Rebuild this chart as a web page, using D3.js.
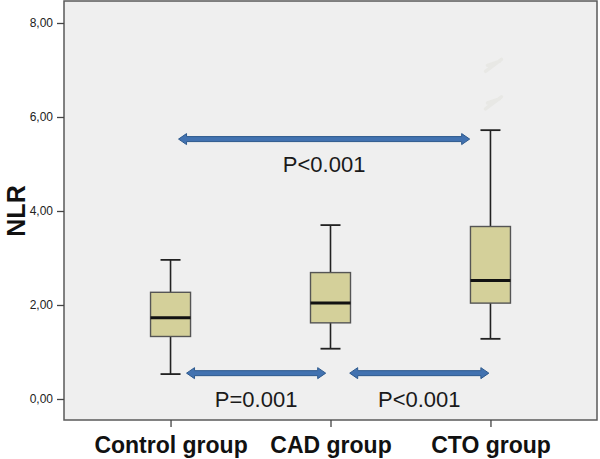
<!DOCTYPE html>
<html>
<head>
<meta charset="utf-8">
<script src="https://cdn.jsdelivr.net/npm/d3@7"></script>
<style>
  body { margin: 0; background: #fff; }
  svg text { font-family: Arial, "Liberation Sans", sans-serif; }
</style>
</head>
<body>
<svg id="chart" width="600" height="459"></svg>
<script>
// group boxplot summaries
const groups = ['Control group', 'CAD group', 'CTO group'];
const whiskerLow = [0.53, 1.07, 1.28];
const q1 = [1.33, 1.62, 2.04];
const medians = [1.73, 2.04, 2.52];
const q3 = [2.27, 2.69, 3.67];
const whiskerHigh = [2.96, 3.70, 5.72];
// faint (erased) outliers of the CTO group
const outlierGroup = ['CTO group', 'CTO group'];
const outlierValues = [7.1, 6.3];

const yTicks = [0, 2, 4, 6, 8];
const yTickLabels = ['0,00', '2,00', '4,00', '6,00', '8,00'];

// comparison arrows: positions in category-index units, y in NLR units
const cmpFrom = [0.05, 0.10, 1.12];
const cmpTo = [1.87, 0.97, 1.99];
const cmpY = [5.53, 0.55, 0.55];
const cmpLabels = ['P<0.001', 'P=0.001', 'P<0.001'];
const cmpLabelY = [4.82, -0.18, -0.18];

const frame = {left: 64, right: 597, top: 1, bottom: 420};
const svg = d3.select('#chart');

const x = d3.scalePoint().domain(groups).range([frame.left, frame.right]).padding(0.666);
const idx = d3.scaleLinear().domain([0, 2]).range([x(groups[0]), x(groups[2])]);
const y = d3.scaleLinear().domain([-0.447, 8.468]).range([frame.bottom, frame.top]);

// plot background
svg.append('rect')
    .attr('x', frame.left).attr('y', frame.top)
    .attr('width', frame.right - frame.left).attr('height', frame.bottom - frame.top)
    .attr('fill', '#efefef').attr('stroke', '#5a5a5a').attr('stroke-width', 1.5);

// y axis
const yAxis = svg.append('g')
    .attr('transform', `translate(${frame.left},0)`)
    .call(d3.axisLeft(y).tickValues(yTicks).tickFormat((d, i) => yTickLabels[i]).tickSize(7).tickPadding(4));
yAxis.select('.domain').remove();
yAxis.selectAll('line').attr('stroke', '#444').attr('stroke-width', 1.3);
yAxis.selectAll('text').attr('font-size', 12).attr('fill', '#222');

// x axis
const xAxis = svg.append('g')
    .attr('transform', `translate(0,${frame.bottom})`)
    .call(d3.axisBottom(x).tickSize(7).tickPadding(10));
xAxis.select('.domain').remove();
xAxis.selectAll('line').attr('stroke', '#444').attr('stroke-width', 1.3);
xAxis.selectAll('text')
    .attr('font-size', 23).attr('font-weight', 'bold').attr('fill', '#111')
    .attr('dy', null).attr('y', 33);

// y title
svg.append('text')
    .attr('transform', 'translate(25,211) rotate(-90)')
    .attr('text-anchor', 'middle')
    .attr('font-size', 25).attr('font-weight', 'bold').attr('fill', '#111')
    .text('NLR');

// boxes
const boxW = 40, capW = 20;
const bx = svg.append('g');
groups.forEach((g, i) => {
    const cx = x(g);
    bx.append('line')
        .attr('x1', cx).attr('x2', cx)
        .attr('y1', y(whiskerLow[i])).attr('y2', y(whiskerHigh[i]))
        .attr('stroke', '#222').attr('stroke-width', 1.6);
    [whiskerLow[i], whiskerHigh[i]].forEach(v => {
        bx.append('line')
            .attr('x1', cx - capW / 2).attr('x2', cx + capW / 2)
            .attr('y1', y(v)).attr('y2', y(v))
            .attr('stroke', '#222').attr('stroke-width', 1.8);
    });
    bx.append('rect')
        .attr('x', cx - boxW / 2).attr('y', y(q3[i]))
        .attr('width', boxW).attr('height', y(q1[i]) - y(q3[i]))
        .attr('fill', '#d4d09a').attr('stroke', '#555').attr('stroke-width', 1.4);
    bx.append('line')
        .attr('x1', cx - boxW / 2).attr('x2', cx + boxW / 2)
        .attr('y1', y(medians[i])).attr('y2', y(medians[i]))
        .attr('stroke', '#111').attr('stroke-width', 3);
});

// faint outliers
outlierValues.forEach((v, i) => {
    const cx = x(outlierGroup[i]) + 3, cy = y(v);
    svg.append('path')
        .attr('d', `M${cx - 8},${cy + 6} L${cx + 8},${cy - 6} M${cx - 6},${cy} L${cx + 6},${cy - 4}`)
        .attr('stroke', '#e8e8e5').attr('stroke-width', 3.5).attr('stroke-linecap', 'round');
});

// double-headed arrows
function arrowPath(x1, x2, yc) {
    const sh = 2.5, hh = 5.5, hl = 8;
    return `M${x1},${yc} L${x1 + hl},${yc - hh} L${x1 + hl},${yc - sh} L${x2 - hl},${yc - sh}
        L${x2 - hl},${yc - hh} L${x2},${yc} L${x2 - hl},${yc + hh} L${x2 - hl},${yc + sh}
        L${x1 + hl},${yc + sh} L${x1 + hl},${yc + hh} Z`;
}
cmpFrom.forEach((f, i) => {
    const x1 = idx(f), x2 = idx(cmpTo[i]);
    svg.append('path')
        .attr('d', arrowPath(x1, x2, y(cmpY[i])))
        .attr('fill', '#4272b0').attr('stroke', '#2e5a8e').attr('stroke-width', 1)
        .attr('stroke-linejoin', 'round');
    svg.append('text')
        .attr('x', (x1 + x2) / 2).attr('y', y(cmpLabelY[i]))
        .attr('text-anchor', 'middle')
        .attr('font-size', 22).attr('fill', '#1a1a1a')
        .text(cmpLabels[i]);
});
</script>
</body>
</html>
